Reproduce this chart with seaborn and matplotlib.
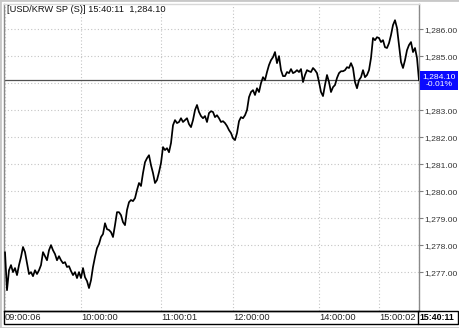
import numpy as np
import pandas as pd
import matplotlib
matplotlib.use('Agg')
import matplotlib.pyplot as plt
import matplotlib.transforms as mtransforms
from matplotlib.patches import Rectangle
from matplotlib.lines import Line2D
import seaborn as sns

# ---- data ----
prices = [
    1277.74, 1276.33, 1277.07, 1277.26, 1277.00, 1277.15, 1276.89, 1277.26, 1277.56, 1277.93,
    1277.74, 1277.33, 1276.93, 1277.00, 1276.85, 1277.07, 1276.93, 1277.07, 1277.26, 1277.74,
    1277.59, 1277.44, 1277.81, 1278.00, 1277.81, 1277.67, 1277.44, 1277.59, 1277.44, 1277.33,
    1277.37, 1277.19, 1277.22, 1277.04, 1276.89, 1277.00, 1276.78, 1277.00, 1276.78, 1277.15,
    1276.81, 1276.67, 1276.41, 1276.70, 1277.19, 1277.56, 1277.89, 1278.04, 1278.30, 1278.41,
    1278.81, 1278.59, 1278.56, 1278.48, 1278.30, 1278.74, 1279.22, 1279.22, 1279.11, 1278.85,
    1278.74, 1279.30, 1279.59, 1279.67, 1279.63, 1279.74, 1280.04, 1280.30, 1280.19, 1280.67,
    1281.07, 1281.22, 1281.33, 1280.96, 1280.67, 1280.30, 1280.41, 1280.70, 1281.04, 1281.63,
    1281.52, 1281.59, 1281.44, 1281.78, 1282.44, 1282.63, 1282.52, 1282.56, 1282.70, 1282.56,
    1282.63, 1282.70, 1282.48, 1282.37, 1282.63, 1283.00, 1283.19, 1282.93, 1282.78, 1282.70,
    1282.78, 1282.56, 1282.89, 1282.96, 1282.93, 1282.74, 1282.81, 1282.70, 1282.56, 1282.59,
    1282.52, 1282.41, 1282.26, 1282.15, 1281.96, 1281.89, 1282.15, 1282.59, 1282.74, 1282.70,
    1282.81, 1283.00, 1283.48, 1283.67, 1283.74, 1283.56, 1283.81, 1283.67, 1284.00, 1284.22,
    1284.11, 1284.41, 1284.67, 1284.85, 1284.96, 1285.15, 1284.74, 1285.00, 1284.48, 1284.26,
    1284.26, 1284.41, 1284.37, 1284.52, 1284.37, 1284.41, 1284.48, 1284.41, 1284.52, 1284.04,
    1284.30, 1284.48, 1284.44, 1284.41, 1284.56, 1284.48, 1284.37, 1284.04, 1283.67, 1283.52,
    1283.93, 1284.30, 1284.04, 1283.67, 1283.85, 1283.93, 1284.19, 1284.37, 1284.44, 1284.44,
    1284.48, 1284.59, 1284.56, 1284.74, 1284.56, 1284.04, 1283.81, 1284.11, 1284.22, 1284.48,
    1284.22, 1284.30, 1284.48, 1284.93, 1285.67, 1285.59, 1285.70, 1285.67, 1285.52, 1285.59,
    1285.33, 1285.30, 1285.48, 1285.78, 1286.15, 1286.33, 1286.04, 1285.41, 1284.78, 1284.56,
    1284.85, 1285.22, 1285.41, 1285.52, 1285.15, 1285.30, 1284.93, 1284.10,
]
time_tick_index = [0, 38, 78, 114, 157, 187, 207]
time_tick_labels = ['09:00:06', '10:00:00', '11:00:01', '12:00:00',
                    '14:00:00', '15:00:02', '15:40:11']
price_ticks = [1277, 1278, 1279, 1280, 1281, 1282, 1283, 1284, 1285, 1286]
price_tick_labels = ['1,277.00', '1,278.00', '1,279.00', '1,280.00', '1,281.00',
                     '1,282.00', '1,283.00', '', '1,285.00', '1,286.00']
last_price = 1284.10
last_price_label = '1,284.10'
change_label = '-0.01%'
title_text = '[USD/KRW SP (S)] 15:40:11  1,284.10'

# ---- style ----
sns.set_style('white')
plt.rcParams['font.family'] = ['Liberation Sans', 'DejaVu Sans']
FS = 6.7
FS_R = 6.1

W, H = 460, 328
fig = plt.figure(figsize=(W / 100, H / 100), dpi=100)
fig.patch.set_facecolor('white')
ax = fig.add_axes([4 / W, 1 - 311 / H, 415 / W, 307 / H])

df = pd.DataFrame({'tick': np.arange(len(prices)), 'price': prices})
sns.lineplot(data=df, x='tick', y='price', ax=ax, color='black',
             linewidth=1.25, zorder=3)

ax.set_xlim(-0.5, len(prices) - 1)
ax.set_ylim(1275.56, 1286.93)
ax.set_xlabel('')
ax.set_ylabel('')

# grid
ax.set_axisbelow(True)
ax.grid(True, linestyle=(0, (1, 2)), color='#c4c4c4', linewidth=0.8)

# last price line
ax.axhline(last_price, color='#505050', linewidth=0.9, zorder=2)

# y axis on right
ax.yaxis.tick_right()
ax.set_yticks(price_ticks)
ax.set_yticklabels(price_tick_labels)
ax.tick_params(axis='y', direction='out', length=3, width=0.8, color='#808080',
               labelsize=FS_R, labelcolor='#333333', pad=1.2)

# x axis (time labels, left aligned at gridline)
ax.set_xticks(time_tick_index)
ax.set_xticklabels(time_tick_labels)
ax.tick_params(axis='x', length=0, labelsize=FS, labelcolor='#222222', pad=1.6)
for lab in ax.get_xticklabels():
    lab.set_horizontalalignment('left')
ax.get_xticklabels()[-1].set_fontweight('bold')
ax.get_xticklabels()[-1].set_color('black')
ax.get_xticklabels()[-1].set_fontsize(6.3)

for side in ['left', 'right', 'top']:
    ax.spines[side].set_color('#8a8a8a')
    ax.spines[side].set_linewidth(1.0)
ax.spines['top'].set_color('#d8d8d8')
ax.spines['bottom'].set_color('black')
ax.spines['bottom'].set_linewidth(1.0)

# blue last-price box
trans = mtransforms.blended_transform_factory(ax.transAxes, ax.transData)
ax.text(1 + 3.5 / 415, last_price, last_price_label + '\n' + change_label,
        transform=trans, color='white', fontsize=FS_R, va='center', ha='left',
        multialignment='center', linespacing=1.1, clip_on=False,
        bbox=dict(boxstyle='square,pad=0.3', fc='#0a0aff', ec='none'))

# title
fig.text(7 / W, 1 - 10 / H, title_text, fontsize=FS, color='#111111',
         va='center', ha='left')

# time strip box and frame
fig.patches.append(Rectangle((4 / W, 1 - 324 / H), 454 / W, 13 / H,
                             transform=fig.transFigure, fill=False,
                             ec='black', lw=1.0))
fig.lines.append(Line2D([418 / W, 418 / W], [1 - 324 / H, 1 - 311 / H],
                        transform=fig.transFigure, color='black', lw=1.0))
fig.patches.append(Rectangle((0, 0), 1, 1, transform=fig.transFigure,
                             fill=False, ec='#c8c8c8', lw=2.0))

fig.savefig('out.png', dpi=100)
